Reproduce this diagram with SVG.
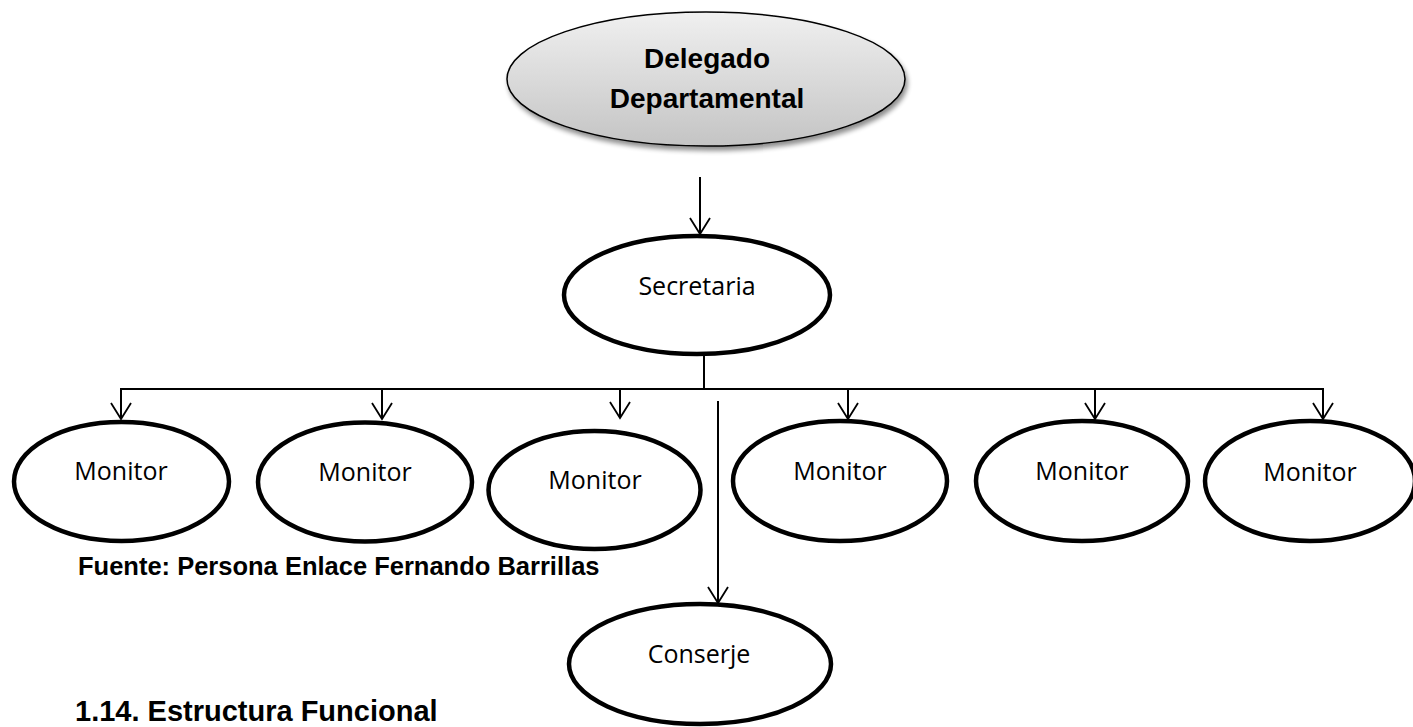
<svg xmlns="http://www.w3.org/2000/svg" width="1413" height="727" viewBox="0 0 1413 727">
<defs>
<linearGradient id="g" x1="0" y1="0" x2="0" y2="1">
<stop offset="0" stop-color="#f0f0f0"/>
<stop offset="1" stop-color="#c4c4c4"/>
</linearGradient>
<filter id="sh" x="-10%" y="-10%" width="130%" height="140%">
<feGaussianBlur in="SourceAlpha" stdDeviation="2.5"/>
<feOffset dx="2" dy="4" result="b"/>
<feComponentTransfer><feFuncA type="linear" slope="0.45"/></feComponentTransfer>
<feMerge><feMergeNode/><feMergeNode in="SourceGraphic"/></feMerge>
</filter>
<marker id="arr" markerWidth="20" markerHeight="24" refX="17" refY="11" orient="auto" markerUnits="userSpaceOnUse" viewBox="0 0 20 22">
<path d="M1,1 L17,11 L1,21" fill="none" stroke="#000" stroke-width="1.8"/>
</marker>
</defs>
<style>
.node{fill:#fff;stroke:#000;stroke-width:4.5}
.lbl{font-family:"Open Sans","Noto Sans",sans-serif;font-size:25px;fill:#000;text-anchor:middle}
.conn{stroke:#000;stroke-width:2;fill:none}
.bold{font-family:"Liberation Sans",Arial,sans-serif;font-weight:bold;fill:#000}
</style>
<rect width="1413" height="727" fill="#fff"/>

<g id="connectors">
<line class="conn" x1="700" y1="177" x2="700" y2="234" marker-end="url(#arr)"/>
<line class="conn" x1="704" y1="356" x2="704" y2="389"/>
<line class="conn" x1="121" y1="389" x2="1323" y2="389"/>
<line class="conn" x1="121" y1="388" x2="121" y2="419" marker-end="url(#arr)"/>
<line class="conn" x1="382" y1="389" x2="382" y2="419" marker-end="url(#arr)"/>
<line class="conn" x1="620" y1="389" x2="620" y2="418" marker-end="url(#arr)"/>
<line class="conn" x1="848" y1="389" x2="848" y2="419" marker-end="url(#arr)"/>
<line class="conn" x1="1095" y1="389" x2="1095" y2="419" marker-end="url(#arr)"/>
<line class="conn" x1="1323" y1="388" x2="1323" y2="419" marker-end="url(#arr)"/>
<line class="conn" x1="718" y1="401" x2="718" y2="603" marker-end="url(#arr)"/>
</g>

<g id="delegado">
<ellipse cx="706" cy="79" rx="199" ry="67" fill="url(#g)" stroke="#000" stroke-width="1.5" filter="url(#sh)"/>
<text class="bold" x="707" y="68" font-size="28" text-anchor="middle">Delegado</text>
<text class="bold" x="707" y="108" font-size="28" text-anchor="middle">Departamental</text>
</g>

<g id="secretaria">
<ellipse class="node" cx="697" cy="295" rx="133" ry="59"/>
<text class="lbl" x="697" y="295">Secretaria</text>
</g>

<g id="monitor1">
<ellipse class="node" cx="121.5" cy="481.5" rx="107.5" ry="59.5"/>
<text class="lbl" x="121" y="480">Monitor</text>
</g>
<g id="monitor2">
<ellipse class="node" cx="365" cy="482" rx="107" ry="59.5"/>
<text class="lbl" x="365" y="481">Monitor</text>
</g>
<g id="monitor3">
<ellipse class="node" cx="594.5" cy="490" rx="106" ry="59"/>
<text class="lbl" x="595" y="489">Monitor</text>
</g>
<g id="monitor4">
<ellipse class="node" cx="840" cy="481" rx="107" ry="60"/>
<text class="lbl" x="840" y="480">Monitor</text>
</g>
<g id="monitor5">
<ellipse class="node" cx="1082" cy="481" rx="106" ry="60"/>
<text class="lbl" x="1082" y="480">Monitor</text>
</g>
<g id="monitor6">
<ellipse class="node" cx="1310" cy="481" rx="105" ry="60"/>
<text class="lbl" x="1310" y="481">Monitor</text>
</g>

<g id="conserje">
<ellipse class="node" cx="700" cy="664" rx="131" ry="60"/>
<text class="lbl" x="699" y="663">Conserje</text>
</g>

<g id="texts">
<text class="bold" x="78" y="575" font-size="25.5">Fuente: Persona Enlace Fernando Barrillas</text>
<text class="bold" x="75" y="721" font-size="29">1.14. Estructura Funcional</text>
</g>
</svg>
